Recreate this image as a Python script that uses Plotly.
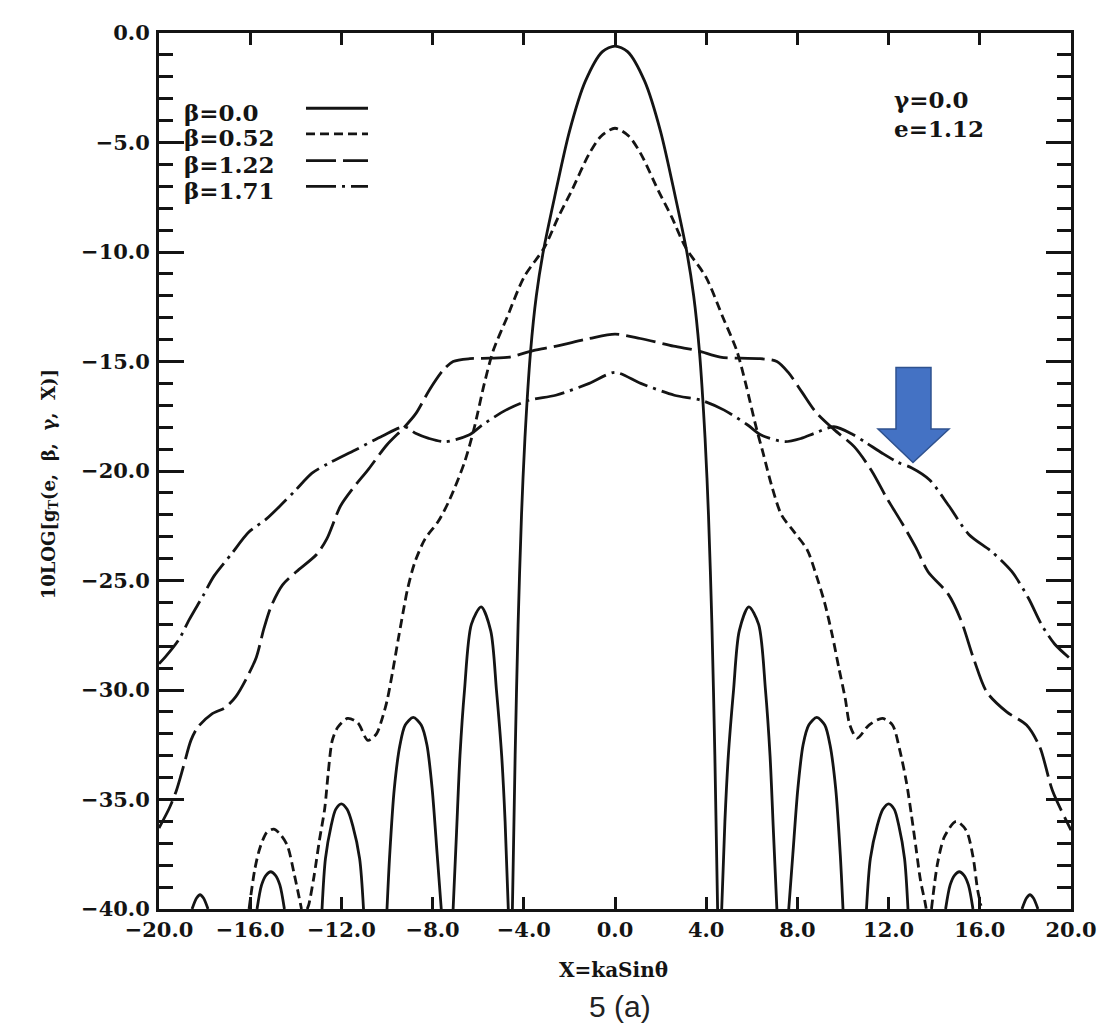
import plotly.graph_objects as go

# ---------------- data ----------------
x_tick_vals = [-20, -16, -12, -8, -4, 0, 4, 8, 12, 16, 20]
x_tick_text = ["−20.0", "−16.0", "−12.0", "−8.0", "−4.0", "0.0", "4.0", "8.0", "12.0", "16.0", "20.0"]
y_tick_vals = [0, -5, -10, -15, -20, -25, -30, -35, -40]
y_tick_text = ["0.0", "−5.0", "−10.0", "−15.0", "−20.0", "−25.0", "−30.0", "−35.0", "−40.0"]

series_names = ["β=0.0", "β=0.52", "β=1.22", "β=1.71"]

# beta = 0.0 (solid) : main lobe + side lobes (None separates lobes that dip below -40)
b0_x = [-18.55, -18.35, -18.2, -18.05, -17.85, None,
        -15.7, -15.5, -15.3, -15.1, -14.9, -14.7, -14.5, None,
        -12.85, -12.7, -12.45, -12.25, -12.0, -11.75, -11.5, -11.2, -11.03, None,
        -10.0, -9.88, -9.68, -9.43, -9.2, -8.85, -8.5, -8.25, -8.02, -7.8, -7.62, None,
        -7.1, -6.95, -6.8, -6.6, -6.3, -5.87, -5.45, -5.2, -4.97, -4.82, -4.68, None,
        -4.5, -4.38, -4.25, -4.1, -3.95, -3.7, -3.45, -3.15, -2.65, -2.0, -1.3, -0.55, 0.0,
        0.55, 1.3, 2.0, 2.65, 3.15, 3.45, 3.7, 3.95, 4.1, 4.25, 4.38, 4.5, None,
        4.68, 4.82, 4.97, 5.2, 5.45, 5.87, 6.3, 6.6, 6.8, 6.95, 7.1, None,
        7.62, 7.8, 8.02, 8.25, 8.5, 8.85, 9.2, 9.43, 9.68, 9.88, 10.0, None,
        11.03, 11.2, 11.5, 11.75, 12.0, 12.25, 12.45, 12.7, 12.85, None,
        14.5, 14.7, 14.9, 15.1, 15.3, 15.5, 15.7, None,
        17.85, 18.05, 18.2, 18.35, 18.55]
b0_y = [-40, -39.5, -39.35, -39.5, -40, None,
        -40, -38.9, -38.45, -38.3, -38.45, -38.9, -40, None,
        -40, -37.7, -36.2, -35.45, -35.2, -35.45, -36.2, -37.7, -40, None,
        -40, -37.5, -34.5, -32.5, -31.6, -31.25, -31.6, -32.5, -34.5, -37.5, -40, None,
        -40, -36.5, -33.0, -30.0, -27.0, -26.2, -27.3, -30.0, -33.0, -36.0, -40, None,
        -40, -33.0, -27.0, -22.0, -18.5, -14.5, -12.0, -10.0, -7.5, -4.5, -2.2, -0.85, -0.6,
        -0.85, -2.2, -4.5, -7.5, -10.0, -12.0, -14.5, -18.5, -22.0, -27.0, -33.0, -40, None,
        -40, -36.0, -33.0, -30.0, -27.3, -26.2, -27.0, -30.0, -33.0, -36.5, -40, None,
        -40, -37.5, -34.5, -32.5, -31.6, -31.25, -31.6, -32.5, -34.5, -37.5, -40, None,
        -40, -37.7, -36.2, -35.45, -35.2, -35.45, -36.2, -37.7, -40, None,
        -40, -38.9, -38.45, -38.3, -38.45, -38.9, -40, None,
        -40, -39.5, -39.35, -39.5, -40]

# beta = 0.52 (short dashes)
b052_x = [-16.05, -15.8, -15.57, -15.27, -14.97, -14.67, -14.37, -14.07, -13.75, None,
          -13.5, -13.43, -13.2, -12.97, -12.73, -12.58, -12.4, -12.16, -11.73, -11.28, -10.84,
          -10.46, -10.24, -10.0, -9.76, -9.51, -9.25, -9.1, -8.79, -8.33, -7.75, -7.25, -6.6,
          -6.19, -5.73, -5.34, -4.74, -3.99, -3.09, -2.49, -1.9, -1.14, -0.6, 0.0,
          0.6, 1.14, 1.9, 2.49, 3.09, 3.99, 4.74, 5.34, 5.73, 6.19, 6.5, 6.88, 7.3, 7.87,
          8.43, 8.84, 9.19, 9.53, 9.82, 10.1, 10.3, 10.62, 11.14, 11.73, 12.17, 12.48,
          12.78, 13.0, 13.2, 13.4, 13.6, 13.65, None,
          13.88, 14.15, 14.45, 14.96, 15.4, 15.7, 15.9, 16.05]
b052_y = [-40, -38.2, -37.2, -36.5, -36.35, -36.6, -37.1, -38.4, -40, None,
          -40, -39.8, -38.5, -36.9, -35.4, -33.8, -32.3, -31.7, -31.3, -31.5, -32.3,
          -32.0, -31.4, -30.5, -29.2, -27.7, -26.2, -25.4, -24.2, -23.1, -22.3, -21.3, -19.6,
          -18.1, -16.0, -14.5, -13.0, -11.15, -9.78, -8.41, -7.2, -5.53, -4.7, -4.35,
          -4.7, -5.53, -7.2, -8.41, -9.78, -11.15, -13.0, -14.5, -16.0, -18.0, -19.2, -20.7, -22.0, -22.8,
          -23.6, -24.8, -26.0, -27.5, -29.0, -30.4, -31.6, -32.2, -31.6, -31.3, -31.6, -32.7,
          -34.2, -35.7, -37.2, -38.7, -39.7, -40, None,
          -40, -37.9, -36.7, -36.0, -36.4, -37.6, -39.1, -39.85]

# beta = 1.22 (long dashes)
b122_x = [-20.0, -19.55, -19.24, -18.93, -18.6, -18.3, -17.69, -17.09, -16.63, -16.18, -15.73,
          -15.4, -15.09, -14.58, -13.98, -13.08, -12.64, -12.04, -11.5, -10.8, -10.0, -9.24,
          -8.73, -8.14, -7.54, -7.1, -6.37, -5.49, -4.62, -3.59, -2.57, -1.11, 0.0,
          1.11, 2.57, 3.59, 4.62, 5.49, 6.37, 7.1, 7.6, 8.2, 8.8, 9.6, 10.5, 11.26, 11.9,
          12.6, 13.2, 13.73, 14.6, 15.17, 15.74, 16.31, 17.18, 18.05, 18.63, 19.19, 20.0]
b122_y = [-36.3, -35.4, -34.6, -33.5, -32.3, -31.7, -31.1, -30.8, -30.3, -29.5, -28.5,
          -27.2, -26.2, -25.2, -24.6, -23.8, -23.1, -21.6, -20.8, -19.9, -18.8, -18.0,
          -17.37, -16.3, -15.4, -15.0, -14.87, -14.85, -14.8, -14.5, -14.3, -13.95, -13.75,
          -13.95, -14.3, -14.5, -14.8, -14.85, -14.87, -15.0, -15.5, -16.4, -17.3, -18.1, -18.9, -20.0, -21.2,
          -22.4, -23.5, -24.6, -25.6, -26.8, -28.6, -30.1, -31.0, -31.6, -32.6, -34.6, -36.4]

# beta = 1.71 (dash-dot)
b171_x = [-20.0, -19.73, -19.13, -18.68, -18.07, -17.59, -16.83, -16.07, -15.3, -14.6, -14.03,
          -13.29, -12.56, -11.39, -10.2, -9.24, -8.75, -8.17, -7.44, -6.41, -5.82, -4.79, -3.77,
          -2.6, -1.13, 0.0, 1.13, 2.6, 3.77, 4.79, 5.82, 6.41, 7.44, 8.17, 8.75, 9.6, 10.43,
          11.0, 11.74, 12.4, 13.0, 13.79, 14.65, 15.52, 16.54, 17.41, 18.13, 18.7, 19.28, 20.0]
b171_y = [-28.8, -28.5, -27.7, -26.8, -25.7, -24.8, -23.8, -22.8, -22.2, -21.5, -20.9,
          -20.1, -19.65, -19.04, -18.4, -17.98, -18.28, -18.51, -18.66, -18.36, -17.9, -17.22, -16.77,
          -16.54, -16.0, -15.5, -16.0, -16.54, -16.77, -17.22, -17.9, -18.36, -18.66, -18.51, -18.28, -17.98, -18.33,
          -18.7, -19.2, -19.6, -19.85, -20.4, -21.6, -22.9, -23.7, -24.6, -25.8, -27.0, -27.9, -28.6]

param_notes = ["γ=0.0", "e=1.12"]

# ---------------- styling / layout ----------------
W_PX, H_PX = 1105, 1026
L, R, T, B = 151, 42, 16, 125
INK = "#141414"
SERIF = "DejaVu Serif"
LW = 2.8
dashes = ["solid", "9px,5px", "30px,7px", "30px,6px,3px,6px"]


def px_x(px):
    return (px - L) / (W_PX - L - R)


def px_y(py):
    return (H_PX - B - py) / (H_PX - T - B)


fig = go.Figure()
for name, xs, ys, d in zip(series_names,
                           [b0_x, b052_x, b122_x, b171_x],
                           [b0_y, b052_y, b122_y, b171_y], dashes):
    fig.add_trace(go.Scatter(x=xs, y=ys, mode="lines", name=name, connectgaps=False,
                             line=dict(color=INK, width=LW, dash=d, shape="spline", smoothing=0.8),
                             showlegend=False))

tickfont = dict(family=SERIF, size=21, color=INK, weight="bold")
fig.update_xaxes(range=[-20, 20], tickmode="array", tickvals=x_tick_vals, ticktext=x_tick_text,
                 ticks="inside", ticklen=12, tickwidth=2.5, tickcolor=INK,
                 showline=True, linewidth=3, linecolor=INK, mirror="allticks",
                 showgrid=False, zeroline=False, tickfont=tickfont)
fig.update_yaxes(range=[-40, 0], tickmode="array", tickvals=y_tick_vals, ticktext=y_tick_text,
                 ticks="inside", ticklen=25, tickwidth=2.5, tickcolor=INK,
                 minor=dict(tickmode="linear", tick0=0, dtick=1, ticks="inside", ticklen=14,
                            tickwidth=2.5, tickcolor=INK, showgrid=False),
                 showline=True, linewidth=3, linecolor=INK, mirror="allticks",
                 showgrid=False, zeroline=False, tickfont=tickfont, ticklabelstandoff=2)

annotations = []
shapes = []
# legend (text then line sample, as in the original)
leg_text_y = [96, 122, 149, 175]
leg_line_y = [92, 118, 145, 171]
for name, d, ty, ly in zip(series_names, dashes, leg_text_y, leg_line_y):
    annotations.append(dict(text=name, x=px_x(174), y=px_y(ty), xref="paper", yref="paper",
                            xanchor="left", yanchor="middle", showarrow=False,
                            font=dict(family=SERIF, size=23, color=INK, weight="bold")))
    shapes.append(dict(type="line", xref="paper", yref="paper",
                       x0=px_x(298), x1=px_x(360), y0=px_y(ly), y1=px_y(ly),
                       line=dict(color=INK, width=LW, dash=d)))

# parameter notes
for txt, ty in zip(param_notes, [83, 112]):
    annotations.append(dict(text=txt, x=px_x(884), y=px_y(ty), xref="paper", yref="paper",
                            xanchor="left", yanchor="middle", showarrow=False,
                            font=dict(family=SERIF, size=23, color=INK, weight="bold")))

# axis titles and caption
annotations.append(dict(text="10LOG[g<sub>T</sub>(e,\u00a0 β,\u00a0 γ,\u00a0 X)]", x=px_x(42), y=px_y(472),
                        xref="paper", yref="paper", textangle=-90, showarrow=False,
                        xanchor="center", yanchor="middle",
                        font=dict(family=SERIF, size=18, color=INK, weight="bold")))
annotations.append(dict(text="X=kaSinθ", x=px_x(605), y=px_y(963), xref="paper", yref="paper",
                        showarrow=False, xanchor="center", yanchor="middle",
                        font=dict(family=SERIF, size=20, color=INK, weight="bold")))
annotations.append(dict(text="5 (a)", x=px_x(612), y=px_y(999), xref="paper", yref="paper",
                        showarrow=False, xanchor="center", yanchor="middle",
                        font=dict(family="Liberation Sans", size=30, color="#222222")))

# blue block arrow overlay
arrow_px = [(888, 354), (923, 354), (923, 416), (941, 416), (905, 450), (870, 416), (888, 416)]
path = "M " + " L ".join(f"{px_x(a):.5f},{px_y(b):.5f}" for a, b in arrow_px) + " Z"
shapes.append(dict(type="path", xref="paper", yref="paper", path=path,
                   fillcolor="#4472C4", line=dict(color="#2F528F", width=1.5)))

fig.update_layout(width=W_PX, height=H_PX, margin=dict(l=L, r=R, t=T, b=B),
                  paper_bgcolor="white", plot_bgcolor="white",
                  annotations=annotations, shapes=shapes, showlegend=False)

fig.write_html("out.html")
